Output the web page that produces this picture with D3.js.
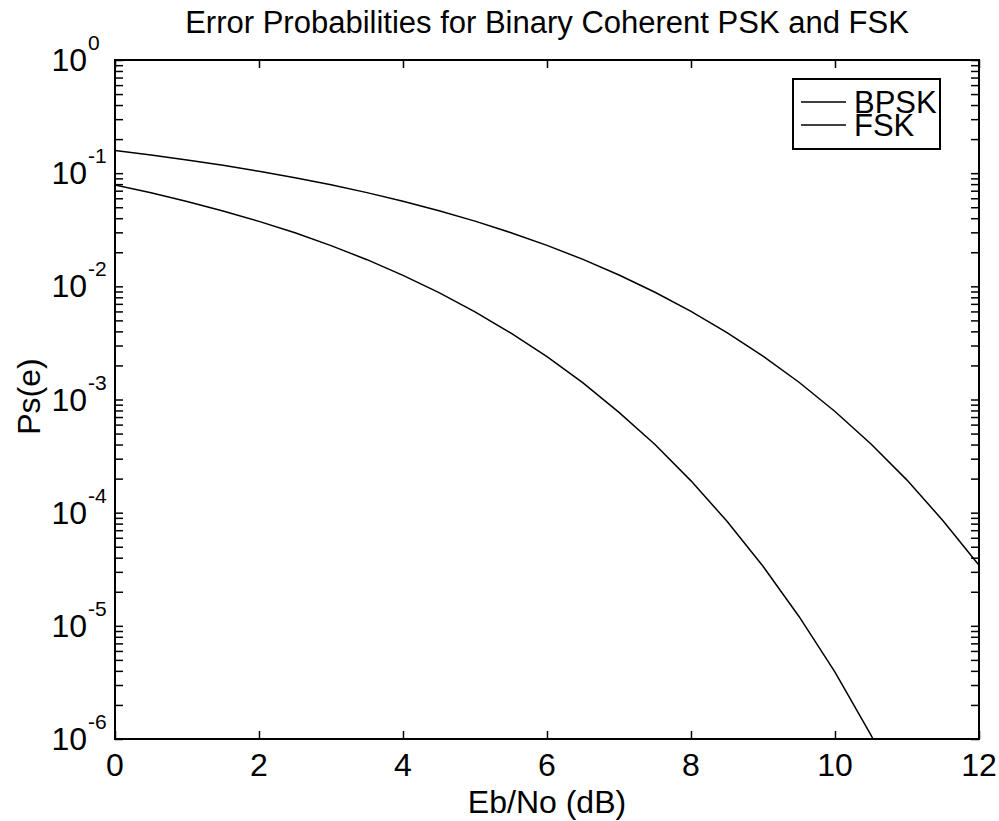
<!DOCTYPE html>
<html>
<head>
<meta charset="utf-8">
<script src="https://cdn.jsdelivr.net/npm/d3@7"></script>
<style>
  body { margin: 0; background: #fff; }
  svg { display: block; }
  text { font-family: "Liberation Sans", Arial, sans-serif; fill: #000; }
</style>
</head>
<body>
<div class="page"></div>
<script>
// Eb/No in dB, 0.5 dB steps
var ebno = [0, 0.5, 1, 1.5, 2, 2.5, 3, 3.5, 4, 4.5, 5, 5.5, 6, 6.5, 7, 7.5, 8, 8.5, 9, 9.5, 10, 10.5, 11, 11.5, 12];

// values (lower curve)
var bpsk = [7.86e-2, 6.71e-2, 5.63e-2, 4.64e-2, 3.75e-2, 2.97e-2, 2.29e-2, 1.72e-2, 1.25e-2, 8.8e-3,
  5.95e-3, 3.86e-3, 2.39e-3, 1.40e-3, 7.7e-4, 4.0e-4, 1.91e-4, 8.4e-5, 3.36e-5, 1.21e-5,
  3.9e-6, 1.08e-6, 2.6e-7, 5.3e-8, 9.0e-9];

// upper curve
var fsk = [1.587e-1, 1.448e-1, 1.309e-1, 1.173e-1, 1.04e-1, 9.12e-2, 7.89e-2, 6.73e-2, 5.65e-2, 4.66e-2,
  3.77e-2, 2.98e-2, 2.30e-2, 1.73e-2, 1.26e-2, 8.87e-3, 6.0e-3, 3.9e-3, 2.42e-3, 1.42e-3,
  7.83e-4, 4.04e-4, 1.94e-4, 8.5e-5, 3.43e-5];

var xTicks = [0, 2, 4, 6, 8, 10, 12];
var yExps = [-6, -5, -4, -3, -2, -1, 0];
var seriesNames = ["BPSK", "FSK"];

(function() {
  var W = 999, H = 821;
  // note: "top" is a read-only global, so use box.* instead
  var box = {left: 115, right: 979, top: 60, bottom: 739};
  var tickLen = 8;

  var svg = d3.select(".page").append("svg")
    .attr("width", W)
    .attr("height", H);

  var x = d3.scaleLinear().domain([0, 12]).range([box.left, box.right]);
  var y = d3.scaleLog().domain([1e-6, 1]).range([box.bottom, box.top]);

  // inward ticks on all four sides, MATLAB style
  var yTickVals = y.ticks();

  svg.append("g")
    .attr("transform", "translate(0," + box.bottom + ")")
    .call(d3.axisBottom(x).tickValues(xTicks).tickSize(-tickLen).tickSizeOuter(0).tickFormat(""));
  svg.append("g")
    .attr("transform", "translate(0," + box.top + ")")
    .call(d3.axisTop(x).tickValues(xTicks).tickSize(-tickLen).tickSizeOuter(0).tickFormat(""));
  svg.append("g")
    .attr("transform", "translate(" + box.left + ",0)")
    .call(d3.axisLeft(y).tickValues(yTickVals).tickSize(-tickLen).tickSizeOuter(0).tickFormat(""));
  svg.append("g")
    .attr("transform", "translate(" + box.right + ",0)")
    .call(d3.axisRight(y).tickValues(yTickVals).tickSize(-tickLen).tickSizeOuter(0).tickFormat(""));

  svg.selectAll(".domain").remove();
  svg.selectAll(".tick line").attr("stroke", "#000").attr("stroke-width", 1.5);

  // frame
  svg.append("rect")
    .attr("x", box.left)
    .attr("y", box.top)
    .attr("width", box.right - box.left)
    .attr("height", box.bottom - box.top)
    .attr("fill", "none")
    .attr("stroke", "#000")
    .attr("stroke-width", 2);

  // x tick labels
  svg.selectAll("text.xlab")
    .data(xTicks)
    .enter()
    .append("text")
    .attr("class", "xlab")
    .attr("x", function(d) { return x(d); })
    .attr("y", box.bottom + 37)
    .attr("text-anchor", "middle")
    .attr("font-size", 32)
    .text(function(d) { return d; });

  // y tick labels: 10 with superscript exponent
  var ylab = svg.selectAll("g.ylab")
    .data(yExps)
    .enter()
    .append("g")
    .attr("class", "ylab");

  ylab.append("text")
    .attr("x", 87)
    .attr("y", function(d) { return y(Math.pow(10, d)) + 11; })
    .attr("text-anchor", "end")
    .attr("font-size", 32)
    .text("10");

  ylab.append("text")
    .attr("x", 88)
    .attr("y", function(d) { return y(Math.pow(10, d)) - 10; })
    .attr("font-size", 21)
    .text(function(d) { return d; });

  // curves, clipped to plot area
  svg.append("clipPath")
    .attr("id", "plotClip")
    .append("rect")
    .attr("x", box.left)
    .attr("y", box.top)
    .attr("width", box.right - box.left)
    .attr("height", box.bottom - box.top);

  var line = d3.line()
    .x(function(d) { return x(d[0]); })
    .y(function(d) { return y(d[1]); });

  [bpsk, fsk].forEach(function(vals) {
    svg.append("path")
      .datum(d3.zip(ebno, vals))
      .attr("clip-path", "url(#plotClip)")
      .attr("fill", "none")
      .attr("stroke", "#000")
      .attr("stroke-width", 1.5)
      .attr("d", line);
  });

  // title and axis labels
  svg.append("text")
    .attr("x", (box.left + box.right) / 2)
    .attr("y", 33)
    .attr("text-anchor", "middle")
    .attr("font-size", 31)
    .text("Error Probabilities for Binary Coherent PSK and FSK");

  svg.append("text")
    .attr("x", (box.left + box.right) / 2)
    .attr("y", 813)
    .attr("text-anchor", "middle")
    .attr("font-size", 32)
    .text("Eb/No (dB)");

  svg.append("text")
    .attr("transform", "translate(40," + ((box.top + box.bottom) / 2 - 3) + ") rotate(-90)")
    .attr("text-anchor", "middle")
    .attr("font-size", 32)
    .text("Ps(e)");

  // legend
  var legend = svg.append("g");
  legend.append("rect")
    .attr("x", 793)
    .attr("y", 79)
    .attr("width", 147)
    .attr("height", 70)
    .attr("fill", "#fff")
    .attr("stroke", "#000")
    .attr("stroke-width", 2);

  var items = legend.selectAll("g.item")
    .data(seriesNames)
    .enter()
    .append("g")
    .attr("class", "item")
    .attr("transform", function(d, i) { return "translate(0," + (102 + i * 23) + ")"; });

  items.append("line")
    .attr("x1", 801)
    .attr("x2", 846)
    .attr("stroke", "#000")
    .attr("stroke-width", 1.5);

  items.append("text")
    .attr("x", 854)
    .attr("y", 11)
    .attr("font-size", 31)
    .text(function(d) { return d; });
})();
</script>
</body>
</html>
